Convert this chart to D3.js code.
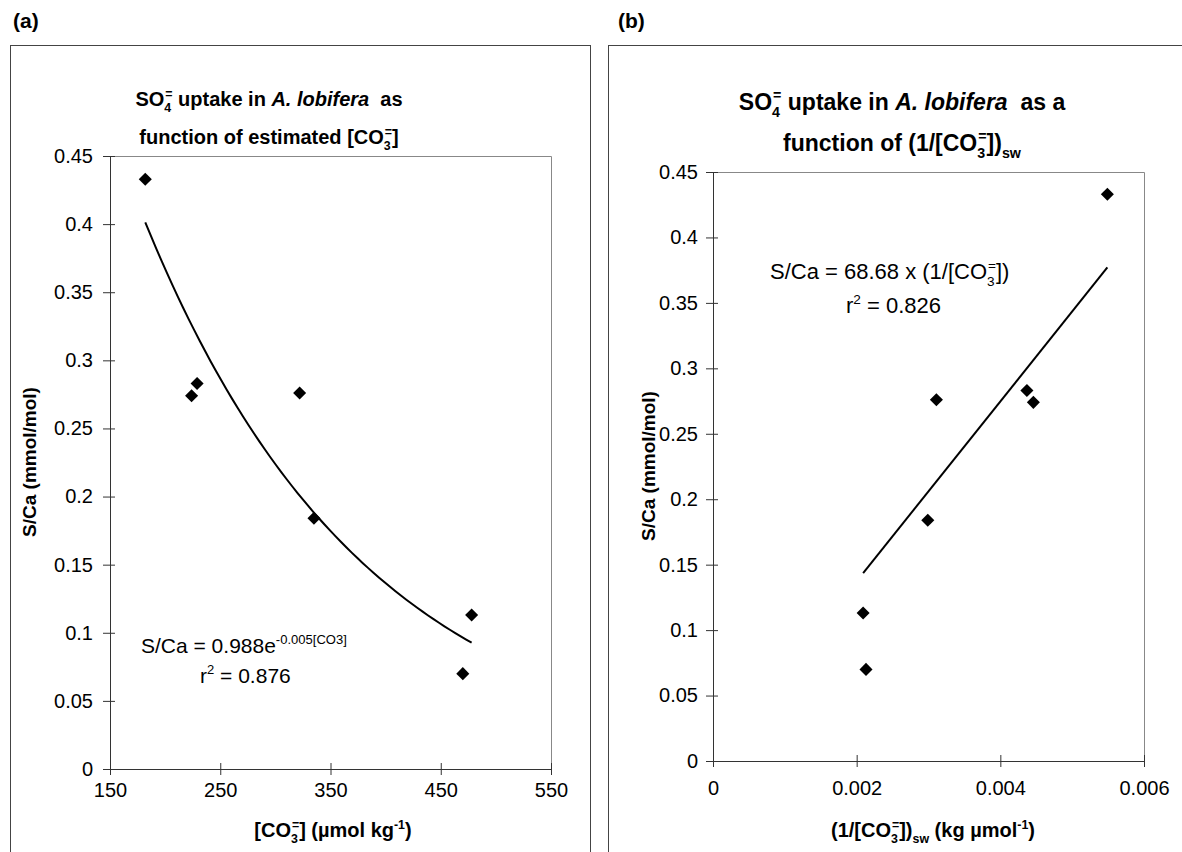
<!DOCTYPE html>
<html>
<head>
<meta charset="utf-8">
<script src="https://cdn.jsdelivr.net/npm/d3@7"></script>
<style>
  body { margin: 0; background: #fff; }
  text { font-family: Arial, "Liberation Sans", sans-serif; fill: #000; white-space: pre; }
</style>
</head>
<body>
<svg id="chart" width="1182" height="852"></svg>
<script>
// data
const yTicks = [0, 0.05, 0.1, 0.15, 0.2, 0.25, 0.3, 0.35, 0.4, 0.45];
const co3Ticks = [150, 250, 350, 450, 550];
const invTicks = [0, 0.002, 0.004, 0.006];
const sCa = [0.433, 0.274, 0.283, 0.276, 0.184, 0.070, 0.113];
const co3 = [182, 224, 229, 322, 335, 470, 478];
const invCo3 = [0.00549, 0.00446, 0.00437, 0.00311, 0.00299, 0.00213, 0.00209];
// fitted trend lines printed on the chart
const expA = 0.988, expB = -0.00495;
const linSlope = 68.68;

const svg = d3.select("#chart");

// rich text helper: parts = [text, mode, opts]
function rich(sel, parts, size) {
  let off = 0;
  parts.forEach(([s, mode, opts]) => {
    opts = opts || {};
    const target = mode === "sub" ? size * 0.3 : mode === "sup" ? -size * 0.42 : 0;
    const ts = sel.append("tspan").attr("dy", target - off).text(s);
    if (mode) ts.attr("font-size", size * 0.62);
    if (opts.stack) ts.attr("dx", -size * 0.3);
    if (opts.italic) ts.style("font-style", "italic");
    off = target;
  });
}

function panel(cfg) {
  const g = svg.append("g");

  // outer frame
  g.append("rect")
    .attr("x", cfg.frame[0] + 0.5).attr("y", cfg.frame[1] + 0.5)
    .attr("width", cfg.frame[2]).attr("height", 900)
    .attr("fill", "none").attr("stroke", "#444").attr("stroke-width", 1);

  g.append("text").attr("x", cfg.tagX).attr("y", 28)
    .style("font-size", "21px").style("font-weight", "bold").text(cfg.tag);

  const x = d3.scaleLinear().domain(cfg.xDomain).range([cfg.plot.left, cfg.plot.right]);
  const y = d3.scaleLinear().domain([0, 0.45]).range([cfg.plot.bottom, cfg.plot.top]);

  // plot area border (top/right)
  g.append("path")
    .attr("d", `M${cfg.plot.left},${cfg.plot.top + 0.5}H${cfg.plot.right + 0.5}V${cfg.plot.bottom}`)
    .attr("fill", "none").attr("stroke", "#888");

  // titles
  cfg.title.forEach((line, i) => {
    const t = g.append("text").attr("x", cfg.titleX).attr("y", cfg.titleY[i])
      .attr("text-anchor", "middle").style("font-size", cfg.titleSize + "px").style("font-weight", "bold");
    rich(t, line, cfg.titleSize);
  });

  // axes with crossing ticks
  const xAxis = g.append("g").attr("transform", `translate(0,${cfg.plot.bottom})`)
    .call(d3.axisBottom(x).tickValues(cfg.xTicks).tickSizeOuter(0).tickSize(6).tickPadding(cfg.xPad)
      .tickFormat(cfg.xFmt));
  xAxis.selectAll(".tick line").attr("y1", -6);
  const yAxis = g.append("g").attr("transform", `translate(${cfg.plot.left},0)`)
    .call(d3.axisLeft(y).tickValues(yTicks).tickSizeOuter(0).tickSize(7).tickPadding(cfg.yPad)
      .tickFormat(d => d3.format("~g")(d)));
  yAxis.selectAll(".tick line").attr("x1", 5);
  [xAxis, yAxis].forEach(a => {
    a.select(".domain").attr("stroke", "#333");
    a.selectAll(".tick line").attr("stroke", "#333");
    a.selectAll(".tick text").style("font-size", "20px").style("font-family", "Arial, 'Liberation Sans', sans-serif");
  });

  // axis titles
  const xt = g.append("text").attr("x", cfg.xTitle[0]).attr("y", cfg.xTitle[1])
    .attr("text-anchor", "middle").style("font-size", "20px").style("font-weight", "bold");
  rich(xt, cfg.xLabel, 20);
  g.append("text")
    .attr("transform", `translate(${cfg.yTitle[0]},${cfg.yTitle[1]}) rotate(-90)`)
    .attr("text-anchor", "middle").style("font-size", "19px").style("font-weight", "bold")
    .text("S/Ca (mmol/mol)");

  // trend line
  g.append("path")
    .datum(cfg.trend(x))
    .attr("d", d3.line().x(d => x(d[0])).y(d => y(d[1])))
    .attr("fill", "none").attr("stroke", "#000").attr("stroke-width", 2);

  // points
  g.selectAll(".pt").data(cfg.xs.map((v, i) => [v, sCa[i]])).enter()
    .append("path").attr("class", "pt")
    .attr("d", d3.symbol(d3.symbolSquare, 85))
    .attr("transform", d => `translate(${x(d[0])},${y(d[1])}) rotate(45)`)
    .attr("fill", "#000");

  // equation
  cfg.eq.forEach(([px, py, parts]) => {
    const t = g.append("text").attr("x", px).attr("y", py).style("font-size", cfg.eqSize + "px");
    rich(t, parts, cfg.eqSize);
  });
}

panel({
  tag: "(a)", tagX: 13,
  frame: [10, 45, 580],
  plot: { left: 110, right: 551, top: 156, bottom: 769 },
  xDomain: [150, 550], xTicks: co3Ticks, xFmt: d3.format("d"), xs: co3, yPad: 10, xPad: 8,
  titleX: 269, titleY: [106, 144], titleSize: 20,
  title: [
    [["SO"], ["4", "sub"], ["=", "sup", { stack: true }], [" uptake in ", ""], ["A. lobifera", "", { italic: true }], ["  as"]],
    [["function of estimated [CO"], ["3", "sub"], ["=", "sup", { stack: true }], ["]", ""]]
  ],
  xTitle: [333, 837],
  xLabel: [["[CO"], ["3", "sub"], ["=", "sup", { stack: true }], ["] (\u00b5mol kg", ""], ["-1", "sup"], [")", ""]],
  yTitle: [36, 462],
  trend: x => {
    const [lo, hi] = d3.extent(co3), n = 60;
    return d3.range(n + 1).map(i => { const v = lo + (hi - lo) * i / n; return [v, expA * Math.exp(expB * v)]; });
  },
  eqSize: 21,
  eq: [
    [141, 653, [["S/Ca = 0.988e"], ["-0.005[CO3]", "sup"]]],
    [200, 683, [["r"], ["2", "sup"], [" = 0.876", ""]]]
  ]
});

panel({
  tag: "(b)", tagX: 618,
  frame: [608, 45, 600],
  plot: { left: 713, right: 1144, top: 172, bottom: 761 },
  xDomain: [0, 0.006], xTicks: invTicks, xFmt: d3.format("~g"), xs: invCo3, yPad: 8, xPad: 14,
  titleX: 902, titleY: [110, 151], titleSize: 23,
  title: [
    [["SO"], ["4", "sub"], ["=", "sup", { stack: true }], [" uptake in ", ""], ["A. lobifera", "", { italic: true }], ["  as a"]],
    [["function of (1/[CO"], ["3", "sub"], ["=", "sup", { stack: true }], ["])", ""], ["sw", "sub"]]
  ],
  xTitle: [933, 837],
  xLabel: [["(1/[CO"], ["3", "sub"], ["=", "sup", { stack: true }], ["])", ""], ["sw", "sub"], [" (kg \u00b5mol", ""], ["-1", "sup"], [")", ""]],
  yTitle: [655, 466],
  trend: x => d3.extent(invCo3).map(v => [v, linSlope * v]),
  eqSize: 22,
  eq: [
    [770, 279, [["S/Ca = 68.68 x (1/[CO"], ["3", "sub"], ["=", "sup", { stack: true }], ["])", ""]]],
    [846, 313, [["r"], ["2", "sup"], [" = 0.826", ""]]]
  ]
});
</script>
</body>
</html>
